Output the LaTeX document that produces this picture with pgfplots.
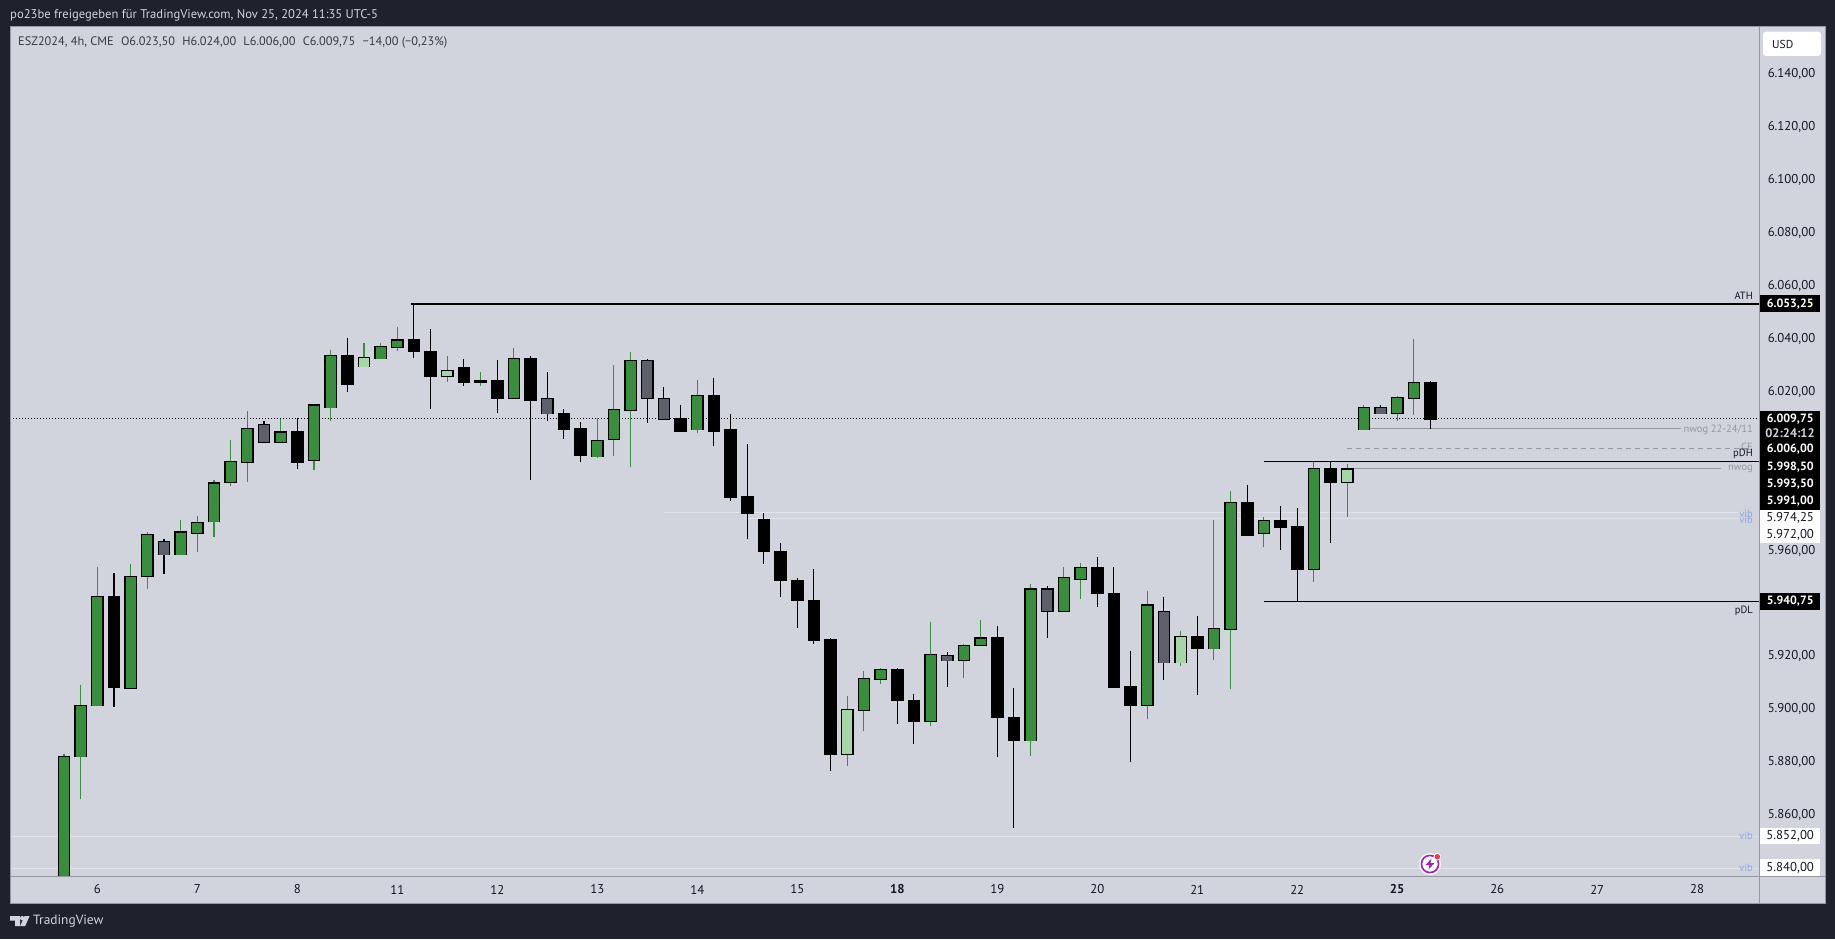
\documentclass[border=0pt]{standalone}
\usepackage{fontspec}
\setmainfont{PT Sans}
\usepackage{pgfplots}
\usepackage{pgfplotstable}
\pgfplotsset{compat=1.18}
\definecolor{dark}{HTML}{1E222D}
\definecolor{panel}{HTML}{D1D4DC}
\definecolor{sep}{HTML}{9598A1}
\definecolor{cgreen}{HTML}{388E3C}
\definecolor{clight}{HTML}{A5D6A7}
\definecolor{cgrey}{HTML}{5D606B}
\definecolor{vibline}{HTML}{E0E3EB}
\definecolor{vibtext}{HTML}{90A4EA}
\definecolor{tcol}{HTML}{131722}
\definecolor{nwog}{HTML}{9598A1}
\pgfplotstableread{
i top bot high low
-2 5882.25 5820 5883.25 5820
-1 5901.5 5882.25 5909.25 5866
0 5942.75 5901.5 5953.75 5901.5
2 5950.25 5908 5954.75 5908
3 5966 5950.25 5967 5945.5
5 5967 5958.5 5971.5 5958.5
6 5970.5 5966.75 5973 5959.25
7 5985.5 5971 5986.5 5965
8 5993.75 5985.75 6001.75 5984.25
9 6006 5993.5 6012.75 5985.75
11 6004.75 6001 6009.5 6001
13 6015 5994.25 6015.25 5990.25
14 6033.75 6014 6035.75 6008.75
17 6037 6032.5 6038.25 6032.5
18 6039.5 6037 6044.5 6035.5
25 6032.5 6017.75 6036.5 6017.75
30 6001.5 5995.5 6010 5994.75
31 6013.25 6002 6030 5995.5
32 6031.75 6013 6035 5991.5
36 6018.5 6005.75 6024.5 6004.25
46 5911.75 5899.75 5914.5 5892
47 5915 5911.5 5915.5 5909.75
50 5920.75 5895.5 5933 5893.75
52 5924.25 5918.75 5924.75 5912
53 5927 5924.25 5933.75 5924.25
56 5945.5 5888.25 5947.25 5882.5
58 5949.75 5937.25 5953.75 5937
59 5953.5 5949.25 5955.25 5941.75
63 5939.5 5901.75 5944.5 5896.5
67 5930.5 5923 5971.5 5918.75
68 5978.25 5930.5 5982.5 5907.5
70 5971.25 5966.75 5972.5 5961.25
73 5991 5953 5993.25 5948
76 6014 6005.75 6015 6005.75
78 6017.75 6012 6018.5 6009
79 6023.5 6017.75 6039.75 6011.25
}\tgreen
\pgfplotstableread{
i top bot high low
16 6033 6029.5 6038.5 6029.5
21 6028 6026 6033.5 6023.5
45 5900 5883.25 5905 5878.75
65 5927.5 5917.75 5929.5 5916.5
75 5990.75 5985.75 5992.75 5972.75
}\tlight
\pgfplotstableread{
i top bot high low
1 5942.75 5908.25 5951.5 5901
12 6005 5993.5 6010 5990.75
15 6033.75 6023 6040.25 6020
19 6039.5 6035.25 6053.25 6032.5
20 6035.25 6026 6043.5 6013.5
22 6029 6023.75 6032.25 6022
23 6024 6023.75 6024 6023.75
24 6024 6017.75 6031.75 6012
26 6032.5 6017 6033.5 5986.75
28 6011.75 6006 6013.25 6002
29 6006 5996 6008.5 5993.25
35 6010 6005.25 6015 6005.25
37 6018.5 6005.25 6025.25 5999.5
38 6005.5 5980.25 6011.5 5978.75
39 5980.5 5974 6000.25 5964.5
40 5971.75 5959.75 5974 5954.75
41 5959.75 5949 5963 5942.5
42 5948.75 5941.25 5949.75 5930.75
43 5941.25 5926 5953 5924.5
44 5926.25 5883 5927 5876.75
48 5915 5903.5 5915.5 5894.5
49 5903.5 5895.5 5905.75 5886.75
54 5927 5897 5931.5 5882
55 5897 5888.5 5908 5855.25
60 5953.5 5943.75 5957.5 5938.75
61 5943.75 5908.5 5953.75 5908.5
62 5908.5 5901.75 5922 5880.25
66 5927.5 5923 5935.25 5905.25
69 5978.25 5966 5984.75 5966
71 5971.25 5969 5976.75 5960
72 5969 5953 5976 5940.75
74 5990.75 5985.75 5993.5 5963
80 6023.5 6009.75 6024 6006
}\tblack
\pgfplotstableread{
i top bot high low
4 5963.5 5958.5 5964.25 5951
10 6007.5 6001 6009 6001
27 6017.5 6011.75 6027.5 6008.75
33 6031.75 6017.75 6032.25 6008
34 6017.5 6009.75 6021.75 6009.5
51 5920.5 5918.5 5921.75 5908.25
57 5945.5 5937.25 5946.5 5927
64 5937 5917.75 5942.5 5911.25
77 6014 6011.75 6015 6011.75
}\tgrey
% #1 table, #2 body colour, #3 wick colour
\newcommand\candles[3]{%
\addplot[forget plot,draw=none,mark=none,error bars/.cd,y dir=both,y explicit,error mark=none,
  error bar style={line width=1.1pt,color=#3}]
  table[x=i,y=bot,y error plus expr=\thisrow{high}-\thisrow{bot},y error minus expr=\thisrow{bot}-\thisrow{low}]{#1};
\addplot[forget plot,draw=none,mark=none,error bars/.cd,y dir=both,y explicit,error mark=none,
  error bar style={line width=12.6pt,color=black}]
  table[x=i,y=bot,y error plus expr=\thisrow{top}-\thisrow{bot}+0.2,y error minus expr=0.2]{#1};
\addplot[forget plot,draw=none,mark=none,error bars/.cd,y dir=both,y explicit,error mark=none,
  error bar style={line width=10pt,color=#2}]
  table[x=i,y=bot,y error plus expr=\thisrow{top}-\thisrow{bot}-0.3,y error minus expr=-0.3]{#1};
}
\newcommand\pricebox[4]{\node[fill=#3,text=#4,minimum width=60pt,minimum height=16.8pt,inner sep=0pt,anchor=west,font=\fontsize{12.8}{13}\selectfont] at (1760,#1) {#2};}
\newcommand\pricedark[2]{\node[fill=black,text=white,minimum width=60pt,minimum height=16.8pt,inner sep=0pt,anchor=west,font=\fontsize{12}{13}\selectfont\bfseries] at (1760,#1) {#2};}
\newcommand\linelabel[3]{\node[anchor=east,inner sep=0pt,text=#3,font=\fontsize{10.5}{10.5}\selectfont] at (1753,#1) {#2};}
\begin{document}
\begin{tikzpicture}[x=1pt,y=-1pt]
\fill[dark] (0,0) rectangle (1835,939);
\fill[panel] (10,27) rectangle (1825,903);
\begin{axis}[
  at={(10pt,-876pt)},anchor=south west,scale only axis,width=1749pt,height=849pt,
  xmin=-5.238,xmax=99.71,ymin=5837.05,ymax=6157.68,
  axis line style={color=sep,line width=1pt},
  major tick length=0pt,
  xtick={0,6,...,96},
  xticklabels={6,7,8,11,12,13,14,15,\textbf{18},19,20,21,22,\textbf{25},26,27,28},
  ytick={5860,5880,5900,5920,5960,6020,6040,6060,6080,6100,6120,6140},
  yticklabel pos=right,
  scaled y ticks=false,
  /pgf/number format/assume math mode=true,
  /pgf/number format/.cd,fixed,fixed zerofill,precision=2,1000 sep={.},dec sep={,},/pgfplots/.cd,
  ticklabel style={font=\fontsize{12.8}{13}\selectfont,text=tcol},
  xticklabel style={anchor=center,yshift=-13.5pt},
  yticklabel style={anchor=west,inner sep=0pt,xshift=8.5pt},
]
% level lines
\addplot[vibline,line width=1pt,forget plot] coordinates {(-5.238,5852)(99.71,5852)};
\addplot[vibline,line width=1pt,forget plot] coordinates {(-5.238,5840)(99.71,5840)};
\addplot[vibline,line width=1pt,forget plot] coordinates {(34,5974.25)(98.7,5974.25)};
\addplot[vibline,line width=1pt,forget plot] coordinates {(39,5972)(98.7,5972)};
\addplot[black,line width=1pt,dotted,forget plot] coordinates {(-5.238,6009.75)(99.71,6009.75)};
\addplot[black,line width=2pt,forget plot] coordinates {(18.8,6053.25)(99.71,6053.25)};
\addplot[black,line width=1.1pt,forget plot] coordinates {(70,5993.5)(99.71,5993.5)};
\addplot[black,line width=1.1pt,forget plot] coordinates {(70,5940.75)(99.71,5940.75)};
\addplot[nwog,line width=1pt,forget plot] coordinates {(76,6006)(95,6006)};
\addplot[nwog,line width=1pt,forget plot] coordinates {(75,5991)(97.4,5991)};
\addplot[nwog,line width=1pt,dash pattern=on 5pt off 4pt,forget plot] coordinates {(75,5998.5)(99.2,5998.5)};
% candles
\addplot[cgreen,line width=1.1pt,forget plot] coordinates {(23,6027.5)(23,6022)};
\candles{\tgreen}{cgreen}{cgreen}
\candles{\tlight}{clight}{cgreen}
\candles{\tgrey}{cgrey}{black}
\candles{\tblack}{black}{black}
\end{axis}
\draw[sep,line width=1pt] (10,27) rectangle (1825,903);
\draw[sep,line width=1pt] (1759,27) -- (1759,903);
\draw[sep,line width=1pt] (10,876) -- (1825,876);
% line labels
\linelabel{295.5}{ATH}{tcol}
\linelabel{447}{CE}{nwog}
\linelabel{454}{pDH}{tcol}
\linelabel{430}{nwog 22-24/11}{nwog}
\linelabel{469}{nwog}{nwog}
\linelabel{610.5}{pDL}{tcol}
\linelabel{513.5}{vib}{vibtext}
\linelabel{519.5}{vib}{vibtext}
\linelabel{836}{vib}{vibtext}
\linelabel{868}{vib}{vibtext}
% price boxes
\pricedark{303.7}{6.053,25}
\fill[black] (1760,411) rectangle (1820,509.5);
\pricedark{419}{6.009,75}
\node[text=panel,inner sep=0pt,font=\fontsize{12.5}{13}\selectfont\bfseries] at (1790,433) {02:24:12};
\pricedark{449.5}{6.006,00}
\pricedark{467}{5.998,50}
\pricedark{484}{5.993,50}
\pricedark{501}{5.991,00}
\pricebox{518}{5.974,25}{white}{tcol}
\pricebox{534.7}{5.972,00}{white}{tcol}
\pricedark{601.5}{5.940,75}
\pricebox{836}{5.852,00}{white}{tcol}
\pricebox{867.6}{5.840,00}{white}{tcol}
% USD button
\fill[white,rounded corners=3pt] (1763,31.7) rectangle (1821,56);
\node[anchor=west,inner sep=0pt,text=tcol,font=\fontsize{11.5}{11.5}\selectfont] at (1772,44.3) {USD};
% header and legend
\node[anchor=west,inner sep=0pt,text=panel,font=\fontsize{12.6}{12.6}\selectfont] at (10,15) {po23be freigegeben für TradingView.com, Nov 25, 2024 11:35 UTC-5};
\node[anchor=west,inner sep=0pt,text=tcol!85!white,font=\fontsize{12.3}{12.3}\selectfont] at (18,42) {ESZ2024, 4h, CME\hspace{4pt} O6.023,50\hspace{4pt} H6.024,00\hspace{4pt} L6.006,00\hspace{4pt} C6.009,75\hspace{4pt} −14,00 (−0,23\%)};
% TradingView logo
\fill[panel] (10,916) -- (20,916) -- (20,926) -- (15,926) -- (15,920.5) -- (10,920.5) -- cycle;
\fill[panel] (22.3,918.2) circle (2.2);
\fill[panel] (24.6,916) -- (29.6,916) -- (25.2,926) -- (20.2,926) -- cycle;
\node[anchor=west,inner sep=0pt,text=panel,font=\fontsize{13.4}{14}\selectfont] at (33,921.5) {TradingView};
% alert icon
\fill[white] (1430,864) circle (11);
\draw[color={rgb,255:red,156;green,39;blue,176},line width=1.7pt] (1430,864) circle (8.6);
\fill[color={rgb,255:red,156;green,39;blue,176}] (1431.5,858.5) -- (1425.5,865) -- (1429.5,865) -- (1428.5,869.5) -- (1434.5,863) -- (1430.5,863) -- cycle;
\fill[white] (1437.3,856.7) circle (3.8);
\fill[color={rgb,255:red,242;green,54;blue,69}] (1437.3,856.7) circle (2.7);
\end{tikzpicture}
\end{document}
